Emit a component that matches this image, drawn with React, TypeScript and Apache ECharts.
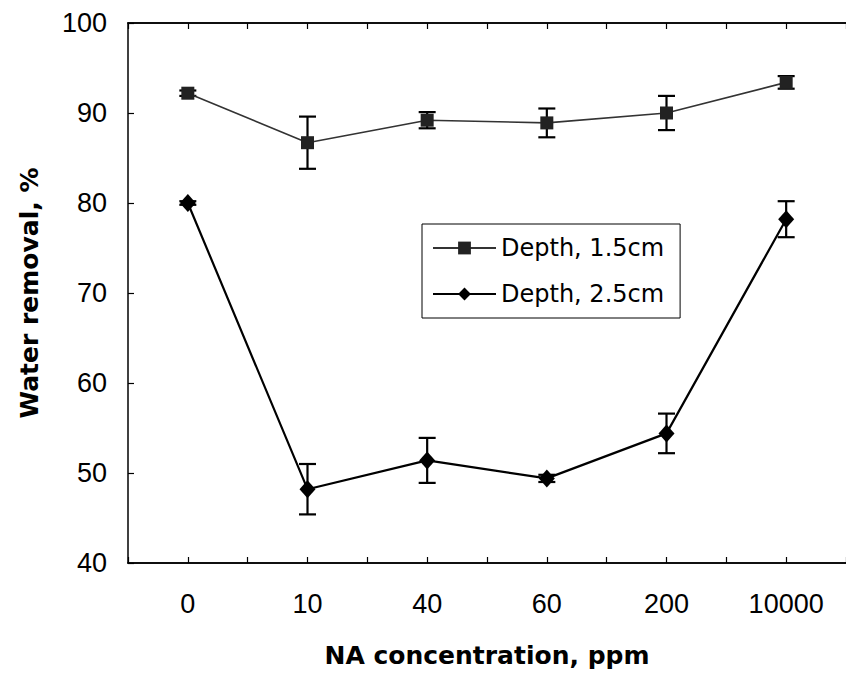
import React, { useEffect, useRef } from "react";
import * as echarts from "echarts";

const categories = ["0", "10", "40", "60", "200", "10000"];
const depth15 = [92.2, 86.7, 89.2, 88.9, 90.0, 93.4];
const depth15Err = [0.3, 2.9, 0.9, 1.6, 1.9, 0.7];
const depth25 = [80.0, 48.2, 51.4, 49.4, 54.4, 78.2];
const depth25Err = [0.2, 2.8, 2.5, 0.4, 2.2, 2.0];
const yTicks = { min: 40, max: 100, interval: 10 };

const errData = (vals: number[], errs: number[]) =>
  vals.map((v, i) => [i, v - errs[i], v + errs[i]]);

const renderErr = (params: any, api: any) => {
  const lo = api.coord([api.value(0), api.value(1)]);
  const hi = api.coord([api.value(0), api.value(2)]);
  const half = 8.5;
  const style = { stroke: "#000", lineWidth: 2.2 };
  return {
    type: "group",
    children: [
      { type: "line", shape: { x1: lo[0], y1: lo[1], x2: hi[0], y2: hi[1] }, style },
      { type: "line", shape: { x1: lo[0] - half, y1: lo[1], x2: lo[0] + half, y2: lo[1] }, style },
      { type: "line", shape: { x1: hi[0] - half, y1: hi[1], x2: hi[0] + half, y2: hi[1] }, style },
    ],
  };
};

export default function App() {
  const ref = useRef<HTMLDivElement>(null);
  useEffect(() => {
    if (!ref.current) return;
    const chart = echarts.init(ref.current, undefined, { renderer: "svg" });
    const axisLine = { show: true, lineStyle: { color: "#000", width: 1.5 } };
    const tick = (align: boolean) => ({
      show: true,
      inside: true,
      length: 6,
      alignWithLabel: align,
      lineStyle: { color: "#000", width: 1.2 },
    });
    const xBase = {
      type: "category" as const,
      data: categories,
      boundaryGap: true,
      axisLine,
      splitLine: { show: false },
    };
    chart.setOption({
      animation: false,
      backgroundColor: "#fff",
      grid: { left: 128, top: 23, width: 722, height: 540 },
      legend: {
        left: 422,
        top: 224,
        orient: "vertical",
        backgroundColor: "#fff",
        borderColor: "#000",
        borderWidth: 1,
        padding: [12, 16, 12, 10],
        itemWidth: 63,
        itemHeight: 16,
        itemGap: 22,
        textStyle: { fontFamily: "DejaVu Sans", fontSize: 24, color: "#000" },
        data: ["Depth, 1.5cm", "Depth, 2.5cm"],
      },
      xAxis: [
        {
          ...xBase,
          position: "bottom",
          name: "NA concentration, ppm",
          nameLocation: "middle",
          nameGap: 80,
          nameTextStyle: { fontFamily: "DejaVu Sans", fontWeight: "bold", fontSize: 25, color: "#000" },
          axisTick: tick(false),
          axisLabel: { fontFamily: "Liberation Sans", fontSize: 27, color: "#000", margin: 27 },
        },
        { ...xBase, position: "bottom", axisTick: tick(true), axisLabel: { show: false } },
        { ...xBase, position: "top", axisTick: tick(false), axisLabel: { show: false } },
        { ...xBase, position: "top", axisTick: tick(true), axisLabel: { show: false } },
      ],
      yAxis: {
        type: "value",
        min: yTicks.min,
        max: yTicks.max,
        interval: yTicks.interval,
        name: "Water removal, %",
        nameLocation: "middle",
        nameGap: 86,
        nameTextStyle: { fontFamily: "DejaVu Sans", fontWeight: "bold", fontSize: 25, color: "#000" },
        axisLine,
        axisTick: { show: true, inside: true, length: 6, lineStyle: { color: "#000", width: 1.2 } },
        axisLabel: { fontFamily: "Liberation Sans", fontSize: 27, color: "#000", margin: 21 },
        splitLine: { show: false },
      },
      series: [
        {
          name: "err15",
          type: "custom",
          xAxisIndex: 0,
          renderItem: renderErr,
          data: errData(depth15, depth15Err),
          encode: { x: 0, y: [1, 2] },
          z: 1,
        },
        {
          name: "err25",
          type: "custom",
          xAxisIndex: 0,
          renderItem: renderErr,
          data: errData(depth25, depth25Err),
          encode: { x: 0, y: [1, 2] },
          z: 1,
        },
        {
          name: "Depth, 1.5cm",
          type: "line",
          data: depth15,
          symbol: "rect",
          symbolSize: 13,
          lineStyle: { color: "#333", width: 1.6 },
          itemStyle: { color: "#222" },
          z: 3,
        },
        {
          name: "Depth, 2.5cm",
          type: "line",
          data: depth25,
          symbol: "diamond",
          symbolSize: [16, 18],
          lineStyle: { color: "#000", width: 2.2 },
          itemStyle: { color: "#000" },
          z: 3,
        },
      ],
    });
    return () => chart.dispose();
  }, []);
  return (
    <div
      ref={ref}
      style={{ position: "fixed", left: 0, top: 0, width: 846, height: 677, background: "#fff" }}
    />
  );
}
